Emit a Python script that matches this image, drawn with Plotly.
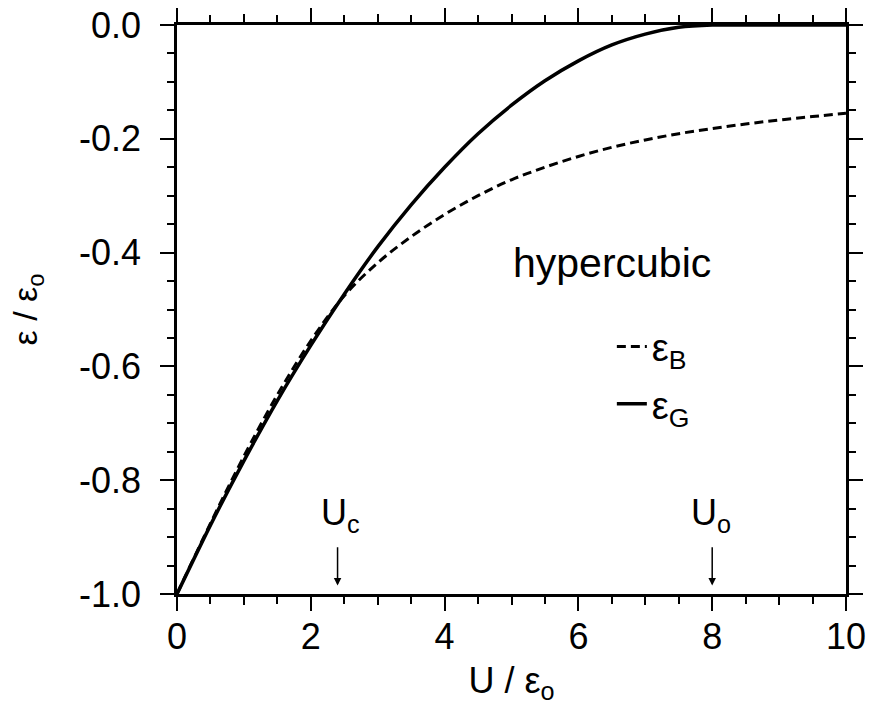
import plotly.graph_objects as go

# U / eps_o grid
U = [0, 0.5, 1, 1.5, 2, 2.5, 3, 3.5, 4, 4.5, 5, 5.5, 6, 6.5, 7, 7.5, 8, 8.5, 9, 9.5, 10]
# epsilon_G (solid)
eps_G = [-1.0, -0.879, -0.766, -0.660, -0.563, -0.473, -0.390, -0.316, -0.250, -0.191,
         -0.141, -0.098, -0.063, -0.035, -0.016, -0.004, 0.0, 0.0, 0.0, 0.0, 0.0]
# epsilon_B (dashed)
eps_B = [-1.0, -0.876, -0.758, -0.650, -0.555, -0.476, -0.418, -0.372, -0.333, -0.300,
         -0.272, -0.250, -0.231, -0.215, -0.202, -0.191, -0.182, -0.174, -0.167, -0.161, -0.155]

x_major = [0, 2, 4, 6, 8, 10]
x_mid = [1, 3, 5, 7, 9]
y_major = [0.0, -0.2, -0.4, -0.6, -0.8, -1.0]
y_labels = ["0.0", "-0.2", "-0.4", "-0.6", "-0.8", "-1.0"]

U_c = 2.4
U_o = 8.0

FONT = "Liberation Sans, Arial, Helvetica, sans-serif"

fig = go.Figure()
fig.add_trace(go.Scatter(x=U, y=eps_B, mode="lines", name="ε<sub>B</sub>",
                         line=dict(color="black", width=3, dash="9px,5px", shape="spline"),
                         legendgroup="b"))
fig.add_trace(go.Scatter(x=U, y=eps_G, mode="lines", name="ε<sub>G</sub>",
                         line=dict(color="black", width=3.5, shape="spline", smoothing=0.6),
                         legendgroup="g"))
# carrier for the medium x ticks
fig.add_trace(go.Scatter(x=[], y=[], xaxis="x2", showlegend=False, hoverinfo="skip"))

fig.update_layout(
    width=869, height=711,
    paper_bgcolor="white", plot_bgcolor="white",
    margin=dict(l=177, r=23, t=25, b=117, autoexpand=False),
    font=dict(family=FONT, color="black", size=38),
    xaxis=dict(range=[0, 10], tickvals=x_major, ticks="outside", ticklen=14, tickwidth=2,
               tickcolor="black", showline=True, linewidth=2.5, linecolor="black",
               mirror="ticks", showgrid=False, zeroline=False, automargin=False,
               tickfont=dict(size=36), ticklabelstandoff=-5, ticklabeloverflow="allow",
               minor=dict(dtick=0.5, ticks="outside", ticklen=7, tickwidth=2, tickcolor="black", showgrid=False),
               title=dict(text="U / ε<sub>o</sub>", font=dict(size=36), standoff=12)),
    xaxis2=dict(range=[0, 10], overlaying="x", anchor="y", tickvals=x_mid, ticks="outside",
                ticklen=10, tickwidth=2, tickcolor="black", showticklabels=False,
                mirror="ticks", showline=False, showgrid=False, zeroline=False),
    yaxis=dict(range=[-1.0, 0.0], tickvals=y_major, ticktext=y_labels, ticks="outside", ticklen=14,
               tickwidth=2, tickcolor="black", showline=True, linewidth=2.5, linecolor="black",
               mirror="ticks", showgrid=False, zeroline=False, tickfont=dict(size=36),
               automargin=False, ticklabelstandoff=12, ticklabeloverflow="allow",
               minor=dict(dtick=0.05, ticks="outside", ticklen=7, tickwidth=2, tickcolor="black", showgrid=False),
               title=dict(text="ε / ε<sub>o</sub>", font=dict(size=34), standoff=32)),
    legend=dict(x=0.65, y=0.49, xanchor="left", yanchor="top", bgcolor="rgba(0,0,0,0)",
                font=dict(size=38), tracegroupgap=5, traceorder="grouped"),
    showlegend=True,
)

fig.add_annotation(x=0.65, y=-0.418, xref="paper", yref="y", text="hypercubic",
                   showarrow=False, font=dict(size=41))

for uval, lbl, dx in [(U_c, "U<sub>c</sub>", 0.05), (U_o, "U<sub>o</sub>", -0.02)]:
    fig.add_annotation(x=uval, y=-0.985, ax=uval, ay=-0.915, xref="x", yref="y",
                       axref="x", ayref="y", text="", showarrow=True,
                       arrowhead=2, arrowsize=1, arrowwidth=1.5, arrowcolor="black")
    fig.add_annotation(x=uval + dx, y=-0.905, xref="x", yref="y", text=lbl,
                       showarrow=False, yanchor="bottom", font=dict(size=36))

page_css = ("document.documentElement.style.overflow='hidden';"
            "document.body.style.margin='0';document.body.style.overflow='hidden';")
fig.write_html("out.html", post_script=page_css, config={"displayModeBar": False})
